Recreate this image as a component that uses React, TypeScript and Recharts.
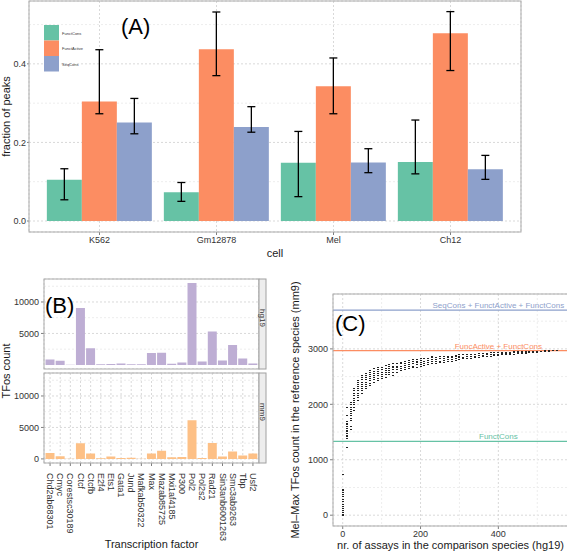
import React from 'react';
import {
  BarChart,
  Bar,
  ScatterChart,
  Scatter,
  XAxis,
  YAxis,
  CartesianGrid,
  ErrorBar,
  ReferenceLine,
  ReferenceDot,
} from 'recharts';

// (A) fraction of peaks per cell line
const cells = ['K562', 'Gm12878', 'Mel', 'Ch12'];
const functCons = [0.105, 0.073, 0.148, 0.15];
const functConsLow = [0.054, 0.05, 0.062, 0.12];
const functConsHigh = [0.133, 0.098, 0.228, 0.257];
const functActive = [0.304, 0.437, 0.343, 0.478];
const functActiveLow = [0.273, 0.37, 0.273, 0.383];
const functActiveHigh = [0.436, 0.532, 0.415, 0.533];
const seqCons = [0.251, 0.239, 0.149, 0.132];
const seqConsLow = [0.222, 0.226, 0.123, 0.106];
const seqConsHigh = [0.312, 0.291, 0.184, 0.167];

// (B) TFos count per transcription factor
const factors = [
  'Chd2ab68301', 'Cmyc', 'Corestsc30189', 'Ctcf', 'Ctcfb', 'E2f4', 'Ets1', 'Gata1',
  'Jund', 'Mafkab50322', 'Max', 'Mazab85725', 'Mxi1af4185', 'P300', 'Pol2', 'Pol2s2',
  'Rad21', 'Sin3anb6001263', 'Smc3ab9263', 'Tbp', 'Usf2',
];
const hg19Counts = [870, 650, 30, 9050, 2650, 100, 150, 220, 100, 90, 1900, 1920, 200, 380, 13000, 550, 5300, 700, 3150, 1000, 240];
const mm9Counts = [950, 420, 20, 2500, 850, 100, 370, 160, 180, 30, 850, 1300, 260, 300, 6150, 150, 2520, 370, 1160, 530, 850];

// (C) Mel-Max TFos count vs number of assays
const assayNr = [
  0, 10, 20, 30, 40, 50, 60, 70, 80, 90, 100, 110, 120, 130, 140, 150, 160, 170, 180, 190,
  200, 210, 220, 230, 240, 250, 260, 270, 280, 290, 300, 310, 320, 330, 340, 350, 360, 370,
  380, 390, 400, 410, 420, 430, 440, 450, 460, 470, 480, 490, 500, 510, 520, 530, 540, 550,
];
const tfosCounts = [
  [0, 30, 60, 95, 130, 170, 210, 260, 300, 340, 380, 420, 460, 480, 750],
  [1230, 1390, 1420, 1450, 1480, 1510, 1540, 1570, 1600, 1640, 1670, 1700, 1800, 1950],
  [1560, 1600, 1720, 1760, 1800, 1840, 1880, 1920, 1960, 2000, 2050],
  [1900, 1960, 2000, 2040, 2080, 2120, 2160, 2200, 2250, 2290],
  [2080, 2130, 2170, 2210, 2250, 2290, 2330, 2370, 2410, 2440],
  [2200, 2250, 2290, 2330, 2370, 2410, 2450, 2490, 2530],
  [2290, 2330, 2370, 2410, 2450, 2490, 2530, 2560],
  [2350, 2390, 2430, 2470, 2510, 2550, 2590, 2620],
  [2410, 2450, 2490, 2530, 2570, 2610, 2650],
  [2440, 2480, 2520, 2560, 2600, 2640, 2680],
  [2470, 2510, 2550, 2590, 2630, 2680],
  [2500, 2540, 2580, 2620, 2660, 2710],
  [2540, 2580, 2620, 2660, 2700, 2720],
  [2530, 2590, 2630, 2670, 2700, 2740],
  [2590, 2630, 2670, 2700, 2740],
  [2620, 2660, 2700, 2740, 2770],
  [2630, 2670, 2710, 2750, 2780],
  [2650, 2690, 2730, 2770, 2800],
  [2665, 2700, 2740, 2780, 2810],
  [2680, 2720, 2760, 2790, 2815],
  [2690, 2730, 2770, 2800, 2830],
  [2710, 2750, 2790, 2830],
  [2720, 2760, 2800, 2840],
  [2740, 2780, 2820, 2850, 2875],
  [2740, 2780, 2820, 2860],
  [2755, 2790, 2830, 2865],
  [2770, 2805, 2840, 2870],
  [2780, 2815, 2850, 2875],
  [2785, 2820, 2855, 2880],
  [2800, 2835, 2865, 2890],
  [2815, 2850, 2880, 2900],
  [2830, 2860, 2900],
  [2830, 2870, 2905],
  [2840, 2875, 2910],
  [2845, 2880, 2915],
  [2860, 2890, 2920],
  [2865, 2895, 2925],
  [2870, 2900, 2930],
  [2875, 2905, 2935],
  [2890, 2915, 2935],
  [2890, 2915, 2940],
  [2900, 2920, 2940],
  [2900, 2925, 2950],
  [2905, 2930, 2950],
  [2910, 2935, 2955],
  [2920, 2940, 2960],
  [2925, 2945, 2960],
  [2930, 2950, 2965],
  [2935, 2955, 2965],
  [2940, 2960, 2970],
  [2950, 2970],
  [2955, 2970],
  [2960, 2975],
  [2965, 2978],
  [2972, 2978],
  [2975],
];
const thresholdNames = ['SeqCons + FunctActive + FunctCons', 'FuncActive + FunctCons', 'FunctCons'];
const thresholdValues = [3700, 2970, 1330];
const thresholdColors = ['#8DA0CB', '#FC8D62', '#66C2A5'];

const seriesA = [
  { key: 'functCons', name: 'FunctCons', color: '#66C2A5' },
  { key: 'functActive', name: 'FunctActive', color: '#FC8D62' },
  { key: 'seqCons', name: 'SeqCons', color: '#8DA0CB' },
];

const peakData = cells.map((cell, i) => ({
  cell,
  functCons: functCons[i],
  functConsErr: [functCons[i] - functConsLow[i], functConsHigh[i] - functCons[i]],
  functActive: functActive[i],
  functActiveErr: [functActive[i] - functActiveLow[i], functActiveHigh[i] - functActive[i]],
  seqCons: seqCons[i],
  seqConsErr: [seqCons[i] - seqConsLow[i], seqConsHigh[i] - seqCons[i]],
}));

const tfData = factors.map((tf, i) => ({ tf, hg19: hg19Counts[i], mm9: mm9Counts[i] }));

const scatterData = assayNr.flatMap((x, i) => tfosCounts[i].map((y) => ({ x, y })));

const FONT = '"Liberation Sans", Arial, Helvetica, sans-serif';
const majorGrid = { stroke: '#D9D9D9', strokeDasharray: '2 2' };
const minorGrid = { stroke: '#EDEDED', strokeDasharray: '2 2' };
const tickStyle = { fontSize: 9, fill: '#333' };
const tickLine = { stroke: '#7F7F7F' };
const titleStyle = { fontSize: 11, fill: '#1a1a1a' };

const TfTick = ({ x, y, payload }: any) => (
  <text
    x={x}
    y={y}
    transform={`rotate(90, ${x}, ${y})`}
    textAnchor="start"
    dominantBaseline="central"
    fontSize={9}
    fill="#333"
  >
    {payload.value}
  </text>
);

// small horizontal dash, like the ggplot "-" points
const Dash = (props: any) => (
  <rect
    x={Math.round(props.cx) - 1}
    y={Math.round(props.cy)}
    width={2}
    height={1}
    fill="#222"
    shapeRendering="crispEdges"
  />
);

const PanelA = () => (
  <BarChart
    width={567}
    height={262}
    data={peakData}
    margin={{ top: 1, right: 46, bottom: 0, left: 0 }}
    barCategoryGap="5%"
    barGap={0}
  >
    <CartesianGrid {...majorGrid} />
    <CartesianGrid {...minorGrid} vertical={false} horizontalValues={[0.1, 0.3, 0.5]} />
    <XAxis
      dataKey="cell"
      padding={{ left: 12, right: 12 }}
      axisLine={false}
      tickSize={3}
      tickMargin={2}
      tickLine={tickLine}
      tick={tickStyle}
      height={30}
      label={{ value: 'cell', position: 'insideBottom', offset: 5, ...titleStyle }}
    />
    <YAxis
      domain={[-0.028, 0.56]}
      ticks={[0, 0.2, 0.4]}
      allowDataOverflow
      tickFormatter={(v: number) => v.toFixed(1)}
      width={29}
      axisLine={false}
      tickSize={2}
      tickMargin={1}
      tickLine={tickLine}
      tick={tickStyle}
      label={{
        value: 'fraction of peaks',
        angle: -90,
        position: 'insideLeft',
        offset: 6,
        style: { textAnchor: 'middle' },
        ...titleStyle,
      }}
    />
    {seriesA.map((s) => (
      <Bar key={s.key} dataKey={s.key} name={s.name} fill={s.color} isAnimationActive={false}>
        <ErrorBar dataKey={s.key + 'Err'} width={4} stroke="#000" strokeWidth={1.3} />
      </Bar>
    ))}
  </BarChart>
);

const FacetB = ({ dataKey, color, bottom }: { dataKey: string; color: string; bottom: boolean }) => (
  <BarChart
    width={260}
    height={bottom ? 190 : 99}
    data={tfData}
    margin={{ top: bottom ? 10 : 9, right: 1, bottom: 0, left: 0 }}
    barCategoryGap="5%"
  >
    <CartesianGrid {...majorGrid} />
    <CartesianGrid {...minorGrid} vertical={false} horizontalValues={[2500, 7500, 12500]} />
    {bottom ? (
      <XAxis
        dataKey="tf"
        interval={0}
        padding={{ left: 1, right: 1 }}
        axisLine={false}
        tickSize={3}
        tickMargin={7}
        tickLine={tickLine}
        tick={<TfTick />}
        height={90}
        label={{ value: 'Transcription factor', position: 'insideBottom', offset: 5, ...titleStyle }}
      />
    ) : (
      <XAxis dataKey="tf" padding={{ left: 1, right: 1 }} height={0} tick={false} tickLine={false} axisLine={false} />
    )}
    <YAxis
      domain={[-650, 13650]}
      ticks={[0, 5000, 10000]}
      allowDataOverflow
      width={44}
      axisLine={false}
      tickSize={3}
      tickMargin={2}
      tickLine={tickLine}
      tick={tickStyle}
    />
    <Bar dataKey={dataKey} fill={color} isAnimationActive={false} />
  </BarChart>
);

const PanelC = () => (
  <ScatterChart width={288} height={283} margin={{ top: 24, right: 0, bottom: 0, left: 0 }}>
    <CartesianGrid {...majorGrid} />
    <CartesianGrid {...minorGrid} horizontalValues={[500, 1500, 2500, 3500]} verticalValues={[100, 300, 500]} />
    <XAxis
      type="number"
      dataKey="x"
      domain={[-25, 579]}
      ticks={[0, 200, 400]}
      allowDataOverflow
      axisLine={false}
      tickSize={3}
      tickMargin={2}
      tickLine={tickLine}
      tick={tickStyle}
      height={27}
      label={{ value: 'nr. of assays in the comparison species (hg19)', position: 'insideBottom', offset: 4, ...titleStyle }}
    />
    <YAxis
      type="number"
      dataKey="y"
      domain={[-195, 3990]}
      ticks={[0, 1000, 2000, 3000]}
      allowDataOverflow
      width={53}
      axisLine={false}
      tickSize={3}
      tickMargin={2}
      tickLine={tickLine}
      tick={tickStyle}
      label={{
        value: 'Mel–Max TFos count in the reference species (mm9)',
        angle: -90,
        position: 'insideLeft',
        offset: 15,
        style: { textAnchor: 'middle' },
        ...titleStyle,
      }}
    />
    {thresholdValues.map((v, i) => (
      <ReferenceLine key={'l' + i} y={v} stroke={thresholdColors[i]} strokeWidth={1.3} />
    ))}
    <Scatter data={scatterData} shape={<Dash />} isAnimationActive={false} />
    {thresholdValues.map((v, i) => (
      <ReferenceDot
        key={'d' + i}
        x={400}
        y={v}
        r={0}
        fill="none"
        stroke="none"
        label={{ value: thresholdNames[i], position: 'top', offset: 2, fill: thresholdColors[i], fontSize: 8 }}
      />
    ))}
  </ScatterChart>
);

export default function App() {
  return (
    <div
      style={{
        position: 'absolute',
        left: 0,
        top: 0,
        width: 567,
        height: 553,
        overflow: 'hidden',
        background: '#fff',
        fontFamily: FONT,
      }}
    >
      <div style={{ position: 'absolute', left: 0, top: 0 }}>
        <PanelA />
      </div>
      <div style={{ position: 'absolute', left: 0, top: 270 }}>
        <FacetB dataKey="hg19" color="#BEAED4" bottom={false} />
      </div>
      <div style={{ position: 'absolute', left: 0, top: 363 }}>
        <FacetB dataKey="mm9" color="#FDC086" bottom />
      </div>
      <div style={{ position: 'absolute', left: 280, top: 270 }}>
        <PanelC />
      </div>
      <svg
        width={567}
        height={553}
        style={{ position: 'absolute', left: 0, top: 0, pointerEvents: 'none', fontFamily: FONT }}
      >
        {/* panel borders */}
        <rect x={29} y={1} width={492} height={231} fill="none" stroke="#ABABAB" />
        <rect x={44} y={279} width={215} height={90} fill="none" stroke="#ABABAB" />
        <rect x={44} y={373} width={215} height={90} fill="none" stroke="#ABABAB" />
        <rect x={333} y={294} width={240} height={232} fill="none" stroke="#ABABAB" />
        {/* facet strips */}
        <rect x={259} y={279} width={7} height={90} fill="#EDEDED" stroke="#A0A0A0" />
        <rect x={259} y={373} width={7} height={90} fill="#EDEDED" stroke="#A0A0A0" />
        <text x={262.5} y={318} transform="rotate(90, 262.5, 318)" textAnchor="middle" dominantBaseline="central" fontSize={8} fill="#333">
          hg19
        </text>
        <text x={262.5} y={412} transform="rotate(90, 262.5, 412)" textAnchor="middle" dominantBaseline="central" fontSize={8} fill="#333">
          mm9
        </text>
        <text x={6} y={371} transform="rotate(-90, 6, 371)" textAnchor="middle" dominantBaseline="central" fontSize={11} fill="#1a1a1a">
          TFos count
        </text>
        {/* legend of (A) */}
        {seriesA.map((s, i) => (
          <g key={s.key}>
            <rect x={44} y={25 + i * 15.5} width={15} height={15.5} fill={s.color} />
            <text x={62} y={34.5 + i * 15.5} fontSize={4} fill="#333">
              {s.name}
            </text>
          </g>
        ))}
        <text x={121} y={34} fontSize={22} fill="#000">(A)</text>
        <text x={45} y={313} fontSize={22} fill="#000">(B)</text>
        <text x={335} y={331} fontSize={22} fill="#000">(C)</text>
      </svg>
    </div>
  );
}
